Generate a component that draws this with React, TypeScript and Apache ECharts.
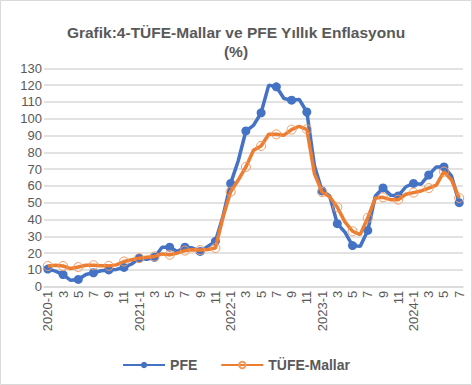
import React, { useEffect, useRef } from "react";
import * as echarts from "echarts";

const months: string[] = (() => {
  const out: string[] = [];
  for (let y = 2020; y <= 2024; y++) {
    for (let m = 1; m <= 12; m++) {
      if (y === 2024 && m > 7) break;
      out.push(m === 1 ? `${y}-${m}` : `${m}`);
    }
  }
  return out;
})();

const pfe: number[] = [
  10.5, 9.3, 7.2, 3.8, 4.3, 7.3, 8.3, 9.5, 10, 10.3, 11.5, 13.5,
  17, 16.3, 17.5, 23.5, 23.5, 21, 23.5, 23, 21, 24, 27,
  42, 61.5, 75, 92.7, 96, 103.5, 120, 119, 112, 111, 111.5, 104,
  72, 57, 54, 37.5, 32.5, 24.5, 24, 33.5, 54, 58.8, 54.5,
  54, 59.5, 61.5, 61, 66.5, 71.3, 71.3, 65.8, 50,
];

const tufeMallar: number[] = [
  12.3, 12.8, 12.3, 10.8, 11.7, 12.8, 12.8, 12.4, 12.4, 13, 15, 16,
  17, 17.5, 18, 19.5, 19, 20, 21.5, 22, 21.8, 22.2, 23,
  41.5, 56.5, 63.5, 71.3, 81.2, 83.8, 90.7, 90.7, 90.2, 93.5, 95.5, 93.7,
  67.3, 56.3, 53.5, 47.3, 38.6, 33, 31, 41, 52.8, 53.2, 51.8,
  51.8, 55, 56, 57, 58.7, 60.5, 68.5, 63.5, 52.8,
];

const titleLine1 = "Grafik:4-TÜFE-Mallar ve PFE Yıllık Enflasyonu";
const titleLine2 = "(%)";

export default function App() {
  const ref = useRef<HTMLDivElement>(null);
  useEffect(() => {
    if (!ref.current) return;
    const chart = echarts.init(ref.current, undefined, { renderer: "svg" });
    const font = "'Liberation Sans', Arial, sans-serif";
    chart.setOption({
      animation: false,
      backgroundColor: "#ffffff",
      textStyle: { fontFamily: font },
      title: [
        {
          text: titleLine1,
          left: "center",
          top: 17,
          textStyle: { fontSize: 15.5, fontWeight: "bold", color: "#595959", fontFamily: font, lineHeight: 20 },
        },
        {
          text: titleLine2,
          left: "center",
          top: 36,
          textStyle: { fontSize: 15.5, fontWeight: "bold", color: "#595959", fontFamily: font, lineHeight: 20 },
        },
      ],
      graphic: [
        {
          type: "rect",
          shape: { x: 0.5, y: 0.5, width: 471, height: 384 },
          style: { fill: "none", stroke: "#d9d9d9", lineWidth: 1 },
          silent: true,
        },
      ],
      legend: {
        bottom: 8,
        left: "center",
        itemWidth: 42,
        itemHeight: 8,
        itemGap: 23,
        textStyle: { fontSize: 14, fontWeight: "bold", color: "#595959", fontFamily: font },
        data: ["PFE", "TÜFE-Mallar"],
      },
      grid: { left: 44, right: 9, top: 68.3, bottom: 98.3, containLabel: false },
      xAxis: {
        type: "category",
        data: months,
        boundaryGap: true,
        axisLine: { lineStyle: { color: "#d9d9d9", width: 1.5 } },
        axisTick: { interval: 4, length: 5, lineStyle: { color: "#d9d9d9", width: 1.5 } },
        axisLabel: {
          interval: 1,
          rotate: 90,
          fontSize: 13,
          color: "#595959",
          fontFamily: font,
          margin: 4,
        },
      },
      yAxis: {
        type: "value",
        min: 0,
        max: 130,
        interval: 10,
        axisLine: { show: false },
        axisTick: { show: false },
        axisLabel: { fontSize: 13, color: "#595959", fontFamily: font, margin: 2 },
        splitLine: { lineStyle: { color: "#d9d9d9", width: 1.5 } },
      },
      series: [
        {
          name: "PFE",
          type: "line",
          data: pfe,
          symbol: "circle",
          symbolSize: 9,
          lineStyle: { color: "#4472C4", width: 3.5 },
          itemStyle: { color: "#4472C4" },
          z: 2,
        },
        {
          name: "TÜFE-Mallar",
          type: "line",
          data: tufeMallar,
          symbol: "circle",
          symbolSize: 9,
          lineStyle: { color: "#ED7D31", width: 3.5 },
          itemStyle: { color: "rgba(255,255,255,0)", borderColor: "#F29A60", borderWidth: 1 },
          z: 3,
        },
      ],
    });
    return () => chart.dispose();
  }, []);
  return (
    <div
      ref={ref}
      style={{ position: "fixed", left: 0, top: 0, width: 472, height: 385 }}
    />
  );
}
